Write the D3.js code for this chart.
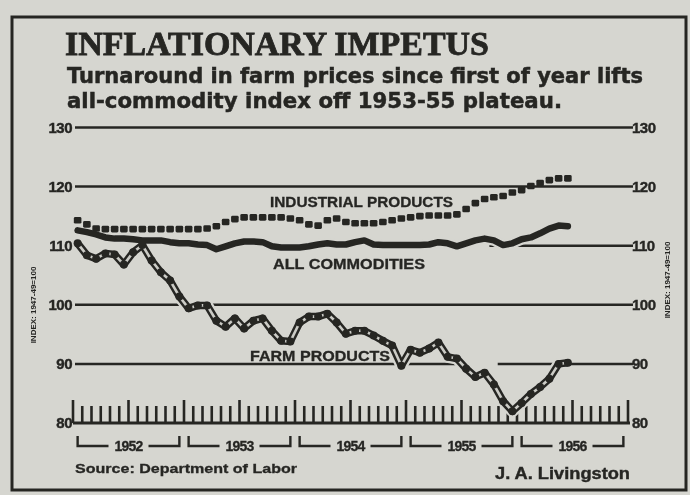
<!DOCTYPE html>
<html>
<head>
<meta charset="utf-8">
<script src="https://cdn.jsdelivr.net/npm/d3@7"></script>
<style>
html, body { margin: 0; padding: 0; background: #d6d6d0; }
svg { display: block; }
</style>
</head>
<body>
<div id="chart"></div>
<script>
// Monthly index values, Jan 1952 .. Jun 1956 (1947-49 = 100)
const yearLabels = ["1952", "1953", "1954", "1955", "1956"];
const yTicks = [80, 90, 100, 110, 120, 130];

const industrial = [
    114.3, 113.6, 112.9, 112.8, 112.8, 112.8, 112.8, 112.8, 112.8, 112.8, 112.8, 112.8,
    112.8, 112.8, 112.9, 113.3, 114.0, 114.5, 114.8, 114.8, 114.8, 114.8, 114.8, 114.6,
    114.3, 113.6, 113.4, 114.3, 114.6, 114.0, 113.8, 113.8, 113.8, 114.0, 114.3, 114.6,
    114.8, 115.0, 115.1, 115.1, 115.1, 115.3, 116.2, 117.2, 117.9, 118.2, 118.4, 119.0,
    119.4, 120.1, 120.6, 121.1, 121.4, 121.4
];

const allCommodities = [
    112.6, 112.3, 111.9, 111.4, 111.2, 111.2, 111.1, 110.9, 110.9, 110.9, 110.6, 110.4,
    110.4, 110.2, 110.1, 109.4, 109.9, 110.4, 110.7, 110.7, 110.6, 109.9, 109.7, 109.7,
    109.7, 109.9, 110.2, 110.4, 110.2, 110.2, 110.6, 110.9, 110.2, 110.1, 110.1, 110.1,
    110.1, 110.1, 110.2, 110.6, 110.4, 109.9, 110.4, 110.9, 111.2, 110.9, 110.1, 110.4,
    111.1, 111.4, 112.1, 112.9, 113.4, 113.3
];

const farm = [
    110.4, 108.4, 107.8, 108.7, 108.5, 106.8, 108.9, 110.1, 107.5, 105.5, 104.1, 101.4,
    99.4, 99.9, 99.9, 97.3, 96.3, 97.7, 96.0, 97.3, 97.7, 95.6, 93.9, 93.8,
    97.0, 98.0, 98.0, 98.5, 97.0, 95.1, 95.6, 95.6, 94.8, 93.9, 93.1, 89.7,
    92.4, 91.9, 92.6, 93.6, 91.2, 90.9, 89.2, 87.8, 88.5, 86.5, 83.7, 82.0,
    83.4, 84.9, 86.1, 87.5, 90.0, 90.2
];

const W = 690, H = 495;
const ink = "#262624";
const paper = "#d6d6d0";

const svg = d3.select("#chart")
    .append("svg")
    .attr("width", W)
    .attr("height", H);

svg.append("defs")
    .append("filter")
    .attr("id", "scan")
    .append("feGaussianBlur")
    .attr("stdDeviation", 0.6);

const g = svg.append("g").attr("filter", "url(#scan)");

g.append("rect")
    .attr("width", W)
    .attr("height", H)
    .attr("fill", paper);

// Frame
g.append("rect")
    .attr("x", 12)
    .attr("y", 17)
    .attr("width", 674)
    .attr("height", 473)
    .attr("fill", "none")
    .attr("stroke", ink)
    .attr("stroke-width", 3);

// Title + subtitle (stroked a little to get the heavy newsprint look)
g.append("text")
    .attr("x", 65)
    .attr("y", 55)
    .attr("textLength", 424)
    .attr("lengthAdjust", "spacingAndGlyphs")
    .style("font-family", "'Liberation Serif', 'DejaVu Serif', serif")
    .style("font-weight", "bold")
    .style("font-size", "34px")
    .style("fill", ink)
    .style("stroke", ink)
    .style("stroke-width", 0.8)
    .text("INFLATIONARY IMPETUS");

const subLines = [
    { text: "Turnaround in farm prices since first of year lifts", y: 83, len: 576 },
    { text: "all-commodity index off 1953-55 plateau.", y: 108, len: 495 }
];
subLines.forEach(s => {
    g.append("text")
        .attr("x", 67)
        .attr("y", s.y)
        .attr("textLength", s.len)
        .attr("lengthAdjust", "spacingAndGlyphs")
        .style("font-family", "'DejaVu Sans', sans-serif")
        .style("font-weight", "bold")
        .style("font-size", "21px")
        .style("fill", ink)
        .style("stroke", ink)
        .style("stroke-width", 0.5)
        .text(s.text);
});

// Scales: x in months from Jan 1952, points plotted mid-month
const x = d3.scaleLinear().domain([0, 60]).range([73, 628]);
const y = d3.scaleLinear().domain([80, 130]).range([423, 127.5]);
const xm = i => x(i + 0.5);

// Grid lines (some are broken where labels / lines sit)
const gridSpans = [
    { v: 130, spans: [[0, 60]] },
    { v: 120, spans: [[0, 60]] },
    { v: 110, spans: [[44.8, 60]] },
    { v: 100, spans: [[0, 60]] },
    { v: 90, spans: [[0, 41], [45.7, 60]] }
];

gridSpans.forEach(row => {
    row.spans.forEach(s => {
        g.append("line")
            .attr("x1", x(s[0]) + 2)
            .attr("x2", x(s[1]) + 5)
            .attr("y1", y(row.v))
            .attr("y2", y(row.v))
            .attr("stroke", ink)
            .attr("stroke-width", 2.5);
    });
});

// Baseline with monthly ticks
g.append("line")
    .attr("x1", x(0))
    .attr("x2", x(60) + 2)
    .attr("y1", y(80))
    .attr("y2", y(80))
    .attr("stroke", ink)
    .attr("stroke-width", 3);

g.selectAll(".mtick")
    .data(d3.range(61))
    .enter()
    .append("line")
    .attr("class", "mtick")
    .attr("x1", d => x(d))
    .attr("x2", d => x(d))
    .attr("y1", y(80))
    .attr("y2", d => y(80) - (d % 6 === 0 ? 23 : 17))
    .attr("stroke", ink)
    .attr("stroke-width", 2.6);

// Axis labels, both sides
const axisFont = "'Liberation Sans', 'DejaVu Sans', sans-serif";
[[72, "end", ".ylab-l"], [632, "start", ".ylab-r"]].forEach(side => {
    g.selectAll(side[2])
        .data(yTicks)
        .enter()
        .append("text")
        .attr("x", side[0])
        .attr("y", d => y(d) + 5)
        .attr("text-anchor", side[1])
        .style("font-family", axisFont)
        .style("font-weight", "bold")
        .style("font-size", "15px")
        .style("letter-spacing", "-0.5px")
        .style("fill", ink)
        .style("stroke", ink)
        .style("stroke-width", 0.4)
        .text(d => d);
});

[[36, 305], [670, 280]].forEach(p => {
    g.append("text")
        .attr("transform", `translate(${p[0]},${p[1]}) rotate(-90)`)
        .attr("text-anchor", "middle")
        .style("font-family", axisFont)
        .style("font-weight", "bold")
        .style("font-size", "8px")
        .style("fill", ink)
        .text("INDEX: 1947-49=100");
});

// Year brackets
yearLabels.forEach((yr, k) => {
    const x0 = x(k * 12 + 0.5), x1 = x(k * 12 + 11.5);
    const xc = (x0 + x1) / 2;
    const by = 446;
    g.append("path")
        .attr("d", `M${x0},${by - 10}V${by}H${xc - 20}M${xc + 20},${by}H${x1}V${by - 10}`)
        .attr("fill", "none")
        .attr("stroke", ink)
        .attr("stroke-width", 2.4);
    g.append("text")
        .attr("x", xc)
        .attr("y", by + 5)
        .attr("text-anchor", "middle")
        .style("font-family", axisFont)
        .style("font-weight", "bold")
        .style("font-size", "14px")
        .style("letter-spacing", "-0.8px")
        .style("fill", ink)
        .style("stroke", ink)
        .style("stroke-width", 0.3)
        .text(yr);
});

// Lines
const line = d3.line()
    .x((d, i) => xm(i))
    .y(d => y(d));

// knock-out halos so grid lines break under the series
g.append("path")
    .datum(farm)
    .attr("d", line)
    .attr("fill", "none")
    .attr("stroke", paper)
    .attr("stroke-width", 12)
    .attr("stroke-linejoin", "round");

g.append("path")
    .datum(allCommodities)
    .attr("d", line)
    .attr("fill", "none")
    .attr("stroke", paper)
    .attr("stroke-width", 11)
    .attr("stroke-linejoin", "round");

// Farm products: hollow chain with dots
g.append("path")
    .datum(farm)
    .attr("d", line)
    .attr("fill", "none")
    .attr("stroke", ink)
    .attr("stroke-width", 7.5)
    .attr("stroke-linejoin", "round");

g.append("path")
    .datum(farm)
    .attr("d", line)
    .attr("fill", "none")
    .attr("stroke", "#cbcbc5")
    .attr("stroke-width", 2.6)
    .attr("stroke-linejoin", "round");

g.selectAll(".farm-dot")
    .data(farm)
    .enter()
    .append("circle")
    .attr("class", "farm-dot")
    .attr("cx", (d, i) => xm(i))
    .attr("cy", d => y(d))
    .attr("r", 4)
    .attr("fill", ink);

// All commodities: heavy solid line
g.append("path")
    .datum(allCommodities)
    .attr("d", line)
    .attr("fill", "none")
    .attr("stroke", ink)
    .attr("stroke-width", 6.5)
    .attr("stroke-linejoin", "round")
    .attr("stroke-linecap", "round");

// Industrial products: row of small squares
g.selectAll(".ind-sq")
    .data(industrial)
    .enter()
    .append("rect")
    .attr("class", "ind-sq")
    .attr("x", (d, i) => xm(i) - 3.8)
    .attr("y", d => y(d) - 3.3)
    .attr("width", 7.6)
    .attr("height", 6.6)
    .attr("rx", 1.4)
    .attr("fill", ink);

// Series labels
const seriesLabels = [
    { text: "INDUSTRIAL PRODUCTS", x: 270, y: 207, len: 183 },
    { text: "ALL COMMODITIES", x: 273, y: 269, len: 152 },
    { text: "FARM PRODUCTS", x: 250, y: 361, len: 140 }
];
seriesLabels.forEach(l => {
    g.append("text")
        .attr("x", l.x)
        .attr("y", l.y)
        .attr("textLength", l.len)
        .attr("lengthAdjust", "spacingAndGlyphs")
        .style("font-family", axisFont)
        .style("font-weight", "bold")
        .style("font-size", "14px")
        .style("fill", ink)
        .style("stroke", ink)
        .style("stroke-width", 0.3)
        .text(l.text);
});

// Footer
g.append("text")
    .attr("x", 75)
    .attr("y", 473)
    .attr("textLength", 222)
    .attr("lengthAdjust", "spacingAndGlyphs")
    .style("font-family", axisFont)
    .style("font-weight", "bold")
    .style("font-size", "13px")
    .style("fill", ink)
    .style("stroke", ink)
    .style("stroke-width", 0.3)
    .text("Source: Department of Labor");

g.append("text")
    .attr("x", 495)
    .attr("y", 479)
    .attr("textLength", 135)
    .attr("lengthAdjust", "spacingAndGlyphs")
    .style("font-family", axisFont)
    .style("font-weight", "bold")
    .style("font-size", "16px")
    .style("fill", ink)
    .style("stroke", ink)
    .style("stroke-width", 0.4)
    .text("J. A. Livingston");
</script>
</body>
</html>
